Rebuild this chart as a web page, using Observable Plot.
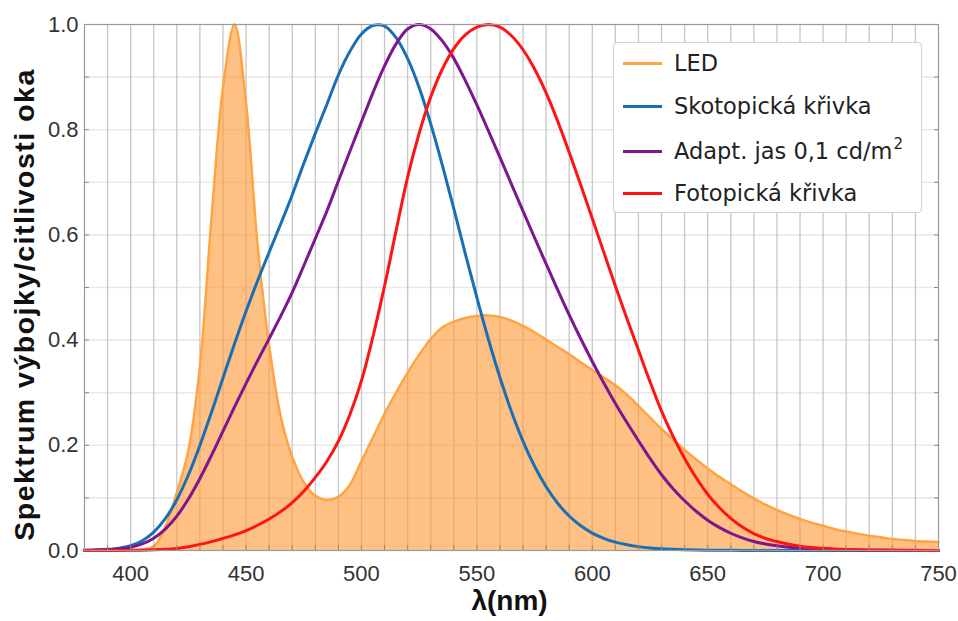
<!DOCTYPE html>
<html>
<head>
<meta charset="utf-8">
<script src="https://cdn.jsdelivr.net/npm/d3@7"></script>
<script src="https://cdn.jsdelivr.net/npm/@observablehq/plot@0.6"></script>
<style>
  html, body { margin: 0; padding: 0; background: #fff; }
  #wrap { position: relative; width: 958px; height: 621px; overflow: hidden; }
  #legend {
    position: absolute; left: 613px; top: 42px; width: 309px; height: 171px;
    background: #fff; border: 1px solid #d2d2d2; border-radius: 4px;
    box-shadow: 0 0 1px rgba(0,0,0,0.08);
    font-family: "DejaVu Sans", Verdana, sans-serif; font-size: 22.5px; color: #222;
    box-sizing: border-box;
  }
  .row { position: absolute; left: 0; height: 28px; display: flex; align-items: center; white-space: nowrap; }
  .sw { width: 39px; height: 3px; margin-left: 9px; margin-right: 12px; }
  sup { font-size: 15px; position: relative; top: -10px; line-height: 0; vertical-align: baseline; margin-left: 1px; }
</style>
</head>
<body>
<div id="wrap"></div>
<script>
// Wavelength samples (nm)
const wavelengths = [
  380,385,390,395,400,405,410,415,420,425,430,435,440,445,450,455,460,465,470,475,
  480,485,490,495,500,505,510,515,520,525,530,535,540,545,550,555,560,565,570,575,
  580,585,590,595,600,605,610,615,620,625,630,635,640,645,650,655,660,665,670,675,
  680,685,690,695,700,705,710,715,720,725,730,735,740,745,750
];

// LED emission spectrum (relative)
const led = [
  0,0,0,0,0,0.002,0.008,0.045,0.11,0.19,0.35,0.63,0.88,1.0,0.85,0.58,0.39,0.255,0.178,0.13,
  0.104,0.096,0.102,0.125,0.17,0.215,0.26,0.30,0.338,0.372,0.402,0.424,0.435,0.442,0.446,0.447,0.444,0.437,0.427,0.415,
  0.401,0.387,0.373,0.358,0.343,0.329,0.314,0.296,0.275,0.253,0.231,0.211,0.191,0.173,0.156,0.140,0.126,0.112,0.099,0.087,
  0.077,0.068,0.060,0.053,0.047,0.041,0.036,0.032,0.028,0.025,0.022,0.020,0.018,0.017,0.016
];

// Scotopic luminous efficiency V'(λ)
const scotopic = [
  0.000589,0.001108,0.002209,0.00453,0.00929,0.01852,0.03484,0.0604,0.0966,0.1436,0.1998,0.2625,0.3281,0.3931,0.455,0.5129,0.567,0.6208,0.676,0.7357,
  0.793,0.848,0.904,0.949,0.982,0.998,0.997,0.975,0.935,0.88,0.811,0.733,0.65,0.5639,0.481,0.4016,0.3288,0.2639,0.2076,0.1602,
  0.1212,0.0899,0.0655,0.0469,0.03315,0.02312,0.01593,0.01088,0.00737,0.00497,0.003335,0.002235,0.001497,0.001005,0.000677,0.000459,0.000313,0.000215,0.000148,0.000103,
  0.0000715,0.00005,0.0000353,0.000025,0.0000178,0.000013,0.00001,0.000007,0.000005,0.000004,0.000003,0.000002,0.000002,0.000001,0.000001
];

// Mesopic efficiency at adaptation luminance 0.1 cd/m²
const mesopic = [
  0.0004,0.0008,0.0015,0.0031,0.0063,0.0125,0.0234,0.0407,0.0653,0.0978,0.1369,0.1807,0.2269,0.2730,0.3179,0.3611,0.4029,0.4455,0.4908,0.5414,
  0.5930,0.6452,0.7025,0.7590,0.8150,0.8706,0.9212,0.9631,0.9914,1.0,0.9916,0.9689,0.9356,0.8933,0.8470,0.7977,0.7474,0.6962,0.6452,0.5946,
  0.5448,0.4956,0.4479,0.4025,0.3593,0.3184,0.2796,0.2432,0.2087,0.1750,0.1440,0.1176,0.0946,0.0746,0.0577,0.0440,0.0328,0.0240,0.0172,0.0124,
  0.0091,0.0064,0.0044,0.0031,0.0022,0.0016,0.0011,0.0008,0.0006,0.0004,0.0003,0.0002,0.0001,0.0001,0.0001
];

// Photopic luminous efficiency V(λ)
const photopic = [
  0.000039,0.000064,0.00012,0.000217,0.000396,0.00064,0.00121,0.00218,0.004,0.0073,0.0116,0.0168,0.023,0.0298,0.038,0.048,0.06,0.0739,0.091,0.1126,
  0.139,0.1693,0.208,0.2586,0.323,0.4073,0.503,0.6082,0.71,0.7932,0.862,0.9149,0.954,0.9803,0.995,1.0,0.995,0.9786,0.952,0.9154,
  0.87,0.8163,0.757,0.6949,0.631,0.5668,0.503,0.4412,0.381,0.321,0.265,0.217,0.175,0.1382,0.107,0.0816,0.061,0.0446,0.032,0.0232,
  0.017,0.01192,0.00821,0.005723,0.004102,0.002929,0.002091,0.001484,0.001047,0.00074,0.00052,0.000366,0.000249,0.000175,0.00012
];

const xTicks = [400, 450, 500, 550, 600, 650, 700, 750];
const yTicks = [0, 0.2, 0.4, 0.6, 0.8, 1.0];
const xGrid = [390,400,410,420,430,440,450,460,470,480,490,500,510,520,530,540,550,560,570,580,590,600,610,620,630,640,650,660,670,680,690,700,710,720,730,740];
const yGrid = [0.1,0.2,0.3,0.4,0.5,0.6,0.7,0.8,0.9];

const seriesNames = ["LED", "Skotopická křivka", "Adapt. jas 0,1 cd/m²", "Fotopická křivka"];
const colors = { led: "#ffa442", scot: "#1a6fb4", mes: "#7d168f", phot: "#ff1414" };

const xTitle = "λ(nm)";
const yTitle = "Spektrum výbojky/citlivosti oka";

const rows = wavelengths.map((w, i) => ({
  w, led: led[i], scot: scotopic[i], mes: mesopic[i], phot: photopic[i]
}));

const curve = "catmull-rom";
const minorTick = { tickFormat: () => "", label: null, stroke: "#8a8a8a", tickSize: 5 };

const chart = Plot.plot({
  width: 958,
  height: 621,
  marginLeft: 84,
  marginRight: 20,
  marginTop: 24,
  marginBottom: 71,
  style: { fontFamily: "'Liberation Sans', Arial, sans-serif", fontSize: "22px", color: "#333", background: "#fff", overflow: "visible" },
  x: { domain: [380, 750] },
  y: { domain: [0, 1] },
  marks: [
    Plot.ruleY(yGrid, { stroke: "#e9e9e9", strokeWidth: 1.6 }),
    Plot.ruleX(xGrid, { stroke: "#c6c6c6", strokeWidth: 1.3 }),
    Plot.areaY(rows, { x: "w", y: "led", fill: "#ff9a38", fillOpacity: 0.62, curve }),
    Plot.lineY(rows, { x: "w", y: "led", stroke: colors.led, strokeWidth: 2.5, curve }),
    Plot.lineY(rows, { x: "w", y: "scot", stroke: colors.scot, strokeWidth: 3, curve }),
    Plot.lineY(rows, { x: "w", y: "mes", stroke: colors.mes, strokeWidth: 3, curve }),
    Plot.lineY(rows, { x: "w", y: "phot", stroke: colors.phot, strokeWidth: 3, curve }),
    Plot.frame({ stroke: "#9a9a9a", strokeWidth: 1.2 }),
    // small inward ticks along the frame
    Plot.axisX(xGrid, { anchor: "bottom", dy: -5, ...minorTick }),
    Plot.axisY(yGrid, { anchor: "left", dx: 5, ...minorTick }),
    Plot.axisY(yGrid, { anchor: "right", dx: -5, ...minorTick }),
    // labelled axes
    Plot.axisX(xTicks, { anchor: "bottom", tickSize: 0, tickPadding: 15, label: null, fill: "#333" }),
    Plot.axisY(yTicks, { anchor: "left", tickSize: 0, tickPadding: 6, label: null, fill: "#333", tickFormat: d3.format(".1f") }),
    Plot.text([xTitle], { text: d => d, frameAnchor: "bottom", dy: 59, dx: -2, fontSize: 28, fontWeight: "bold", fill: "#111" }),
    Plot.text([yTitle], { text: d => d, frameAnchor: "left", textAnchor: "middle", dx: -60, dy: 17, rotate: -90, fontSize: 28.5, fontWeight: "bold", fill: "#111" })
  ]
});

// widen the vertical axis title a little
d3.select(chart).selectAll("text")
  .filter(function () { return this.textContent === yTitle; })
  .style("letter-spacing", "1.5px");

const wrap = document.getElementById("wrap");
wrap.appendChild(chart);

// Legend box inside the plot area
const legend = document.createElement("div");
legend.id = "legend";
const legendColors = [colors.led, colors.scot, colors.mes, colors.phot];
const rowTops = [6, 49, 94, 136];
seriesNames.forEach((name, i) => {
  const r = document.createElement("div");
  r.className = "row";
  r.style.top = rowTops[i] + "px";
  const sw = document.createElement("div");
  sw.className = "sw";
  sw.style.background = legendColors[i];
  const t = document.createElement("span");
  if (name.endsWith("²")) {
    t.innerHTML = name.slice(0, -1) + "<sup>2</sup>";
  } else {
    t.textContent = name;
  }
  r.appendChild(sw);
  r.appendChild(t);
  legend.appendChild(r);
});
wrap.appendChild(legend);
</script>
</body>
</html>
